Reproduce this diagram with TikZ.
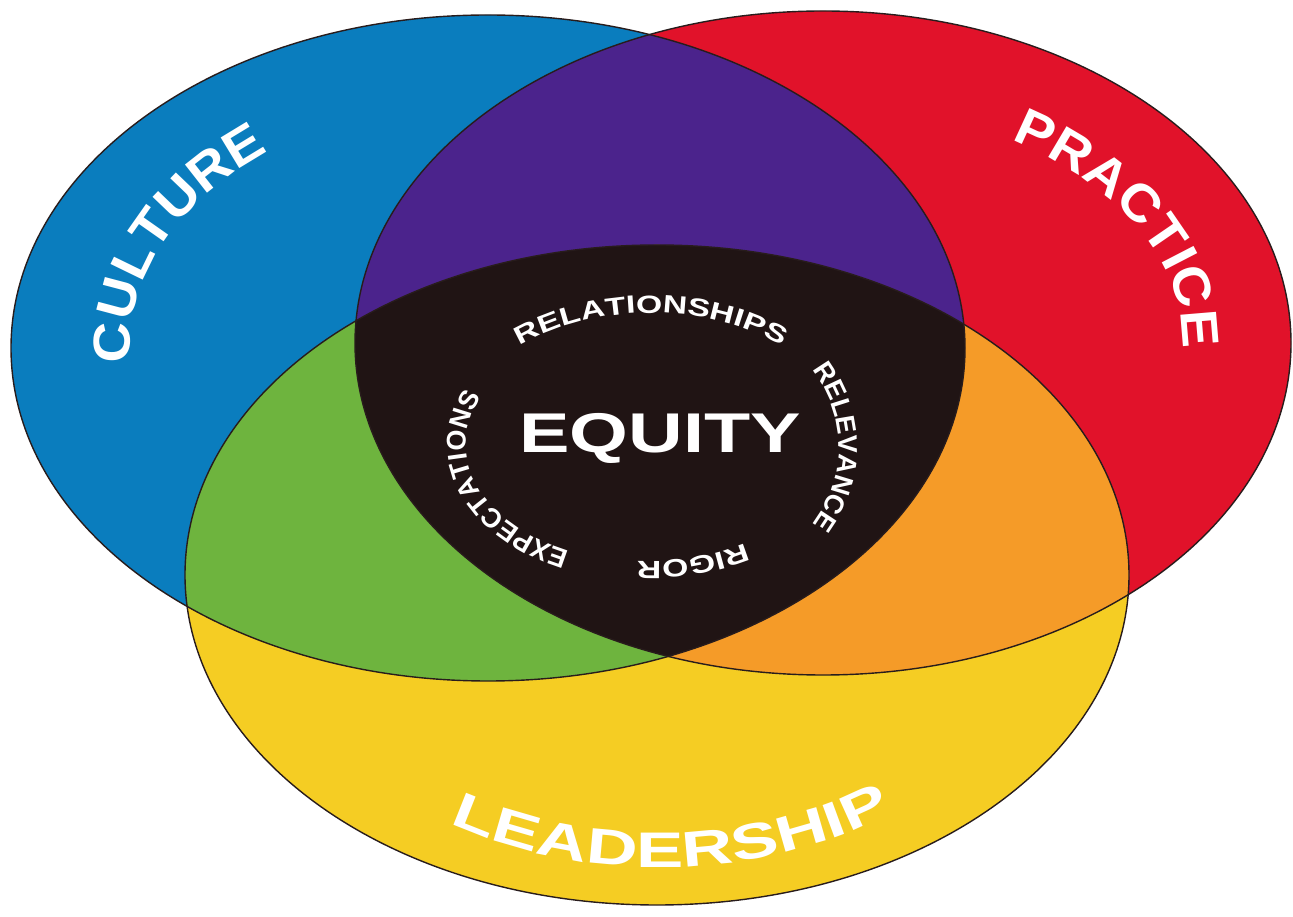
\documentclass[tikz,border=0pt]{standalone}
\usepackage{fontspec}
\setmainfont{Liberation Sans}
\newfontfamily\widefont{Liberation Sans}[FakeStretch=1.08]
\newfontfamily\leadfont{Liberation Sans}[FakeStretch=1.42]
\newfontfamily\ringfont{Liberation Sans}
\newfontfamily\ringwide{Liberation Sans}[FakeStretch=1.35]
\newfontfamily\equityfont{Liberation Sans}[FakeStretch=1.35]
\usetikzlibrary{decorations.text}
\definecolor{cultureblue}{RGB}{10,125,190}
\definecolor{practicered}{RGB}{225,18,42}
\definecolor{leadyellow}{RGB}{245,205,35}
\definecolor{mixpurple}{RGB}{75,35,140}
\definecolor{mixgreen}{RGB}{110,180,62}
\definecolor{mixorange}{RGB}{245,155,40}
\definecolor{core}{RGB}{32,20,20}
\definecolor{rim}{RGB}{40,28,28}

\begin{document}
\begin{tikzpicture}[x=1pt,y=1pt,
  culture ell/.style={insert path={(488,568) ellipse [x radius=477pt, y radius=333pt]}},
  practice ell/.style={insert path={(823,573) ellipse [x radius=468pt, y radius=332pt]}},
  lead ell/.style={insert path={(657,341) ellipse [x radius=472pt, y radius=330pt]}},
  curvedword/.style 2 args={decorate, decoration={text along path, text color=white,
    text align=center, text={|#1|#2}}}]
  \useasboundingbox (0,0) rectangle (1293,916);
  % the three circles
  \fill[cultureblue, culture ell];
  \fill[practicered, practice ell];
  \fill[leadyellow, lead ell];
  % overlaps
  \begin{scope}
    \clip[culture ell];
    \fill[mixpurple, practice ell];
    \fill[mixgreen, lead ell];
  \end{scope}
  \begin{scope}
    \clip[practice ell];
    \fill[mixorange, lead ell];
  \end{scope}
  \begin{scope}
    \clip[culture ell];
    \clip[practice ell];
    \fill[core, lead ell];
  \end{scope}
  \draw[rim, line width=1.4pt, culture ell];
  \draw[rim, line width=1.4pt, practice ell];
  \draw[rim, line width=1.4pt, lead ell];
  % outer labels
  \path[curvedword={\widefont\bfseries\fontsize{52}{60}\selectfont}{CULTURE}]
    (488,568) ++(195:358pt and 249pt)
    arc[start angle=195, end angle=119, x radius=358pt, y radius=249pt];
  \path[curvedword={\widefont\bfseries\fontsize{52}{60}\selectfont}{PRACTICE}]
    (823,573) ++(66:360pt and 238pt)
    arc[start angle=66, end angle=-12, x radius=360pt, y radius=238pt];
  \path[curvedword={\leadfont\bfseries\fontsize{50}{60}\selectfont}{LEADERSHIP}]
    (660,341) ++(224:400pt and 292pt)
    arc[start angle=224, end angle=320, x radius=400pt, y radius=292pt];
  % centre
  \node[font=\equityfont\bfseries\fontsize{56}{60}\selectfont, text=white] (equity) at (660,478) {EQUITY};
  \path[curvedword={\ringwide\bfseries\fontsize{25}{30}\selectfont}{RELATIONSHIPS}]
    (651,468) ++(150:200pt and 135pt)
    arc[start angle=150, end angle=30, x radius=200pt, y radius=135pt];
  \path[curvedword={\ringfont\bfseries\fontsize{27}{30}\selectfont}{RELEVANCE}]
    (651,469) ++(50:188pt and 150pt)
    arc[start angle=50, end angle=-50, x radius=188pt, y radius=150pt];
  \path[curvedword={\ringwide\bfseries\fontsize{25}{30}\selectfont}{RIGOR}]
    (651,471) ++(-40:176pt and 116pt)
    arc[start angle=-40, end angle=-110, x radius=176pt, y radius=116pt];
  \path[curvedword={\ringfont\bfseries\fontsize{27}{30}\selectfont}{EXPECTATIONS}]
    (648,471) ++(262:182pt and 118pt)
    arc[start angle=262, end angle=134, x radius=182pt, y radius=118pt];
\end{tikzpicture}
\end{document}
